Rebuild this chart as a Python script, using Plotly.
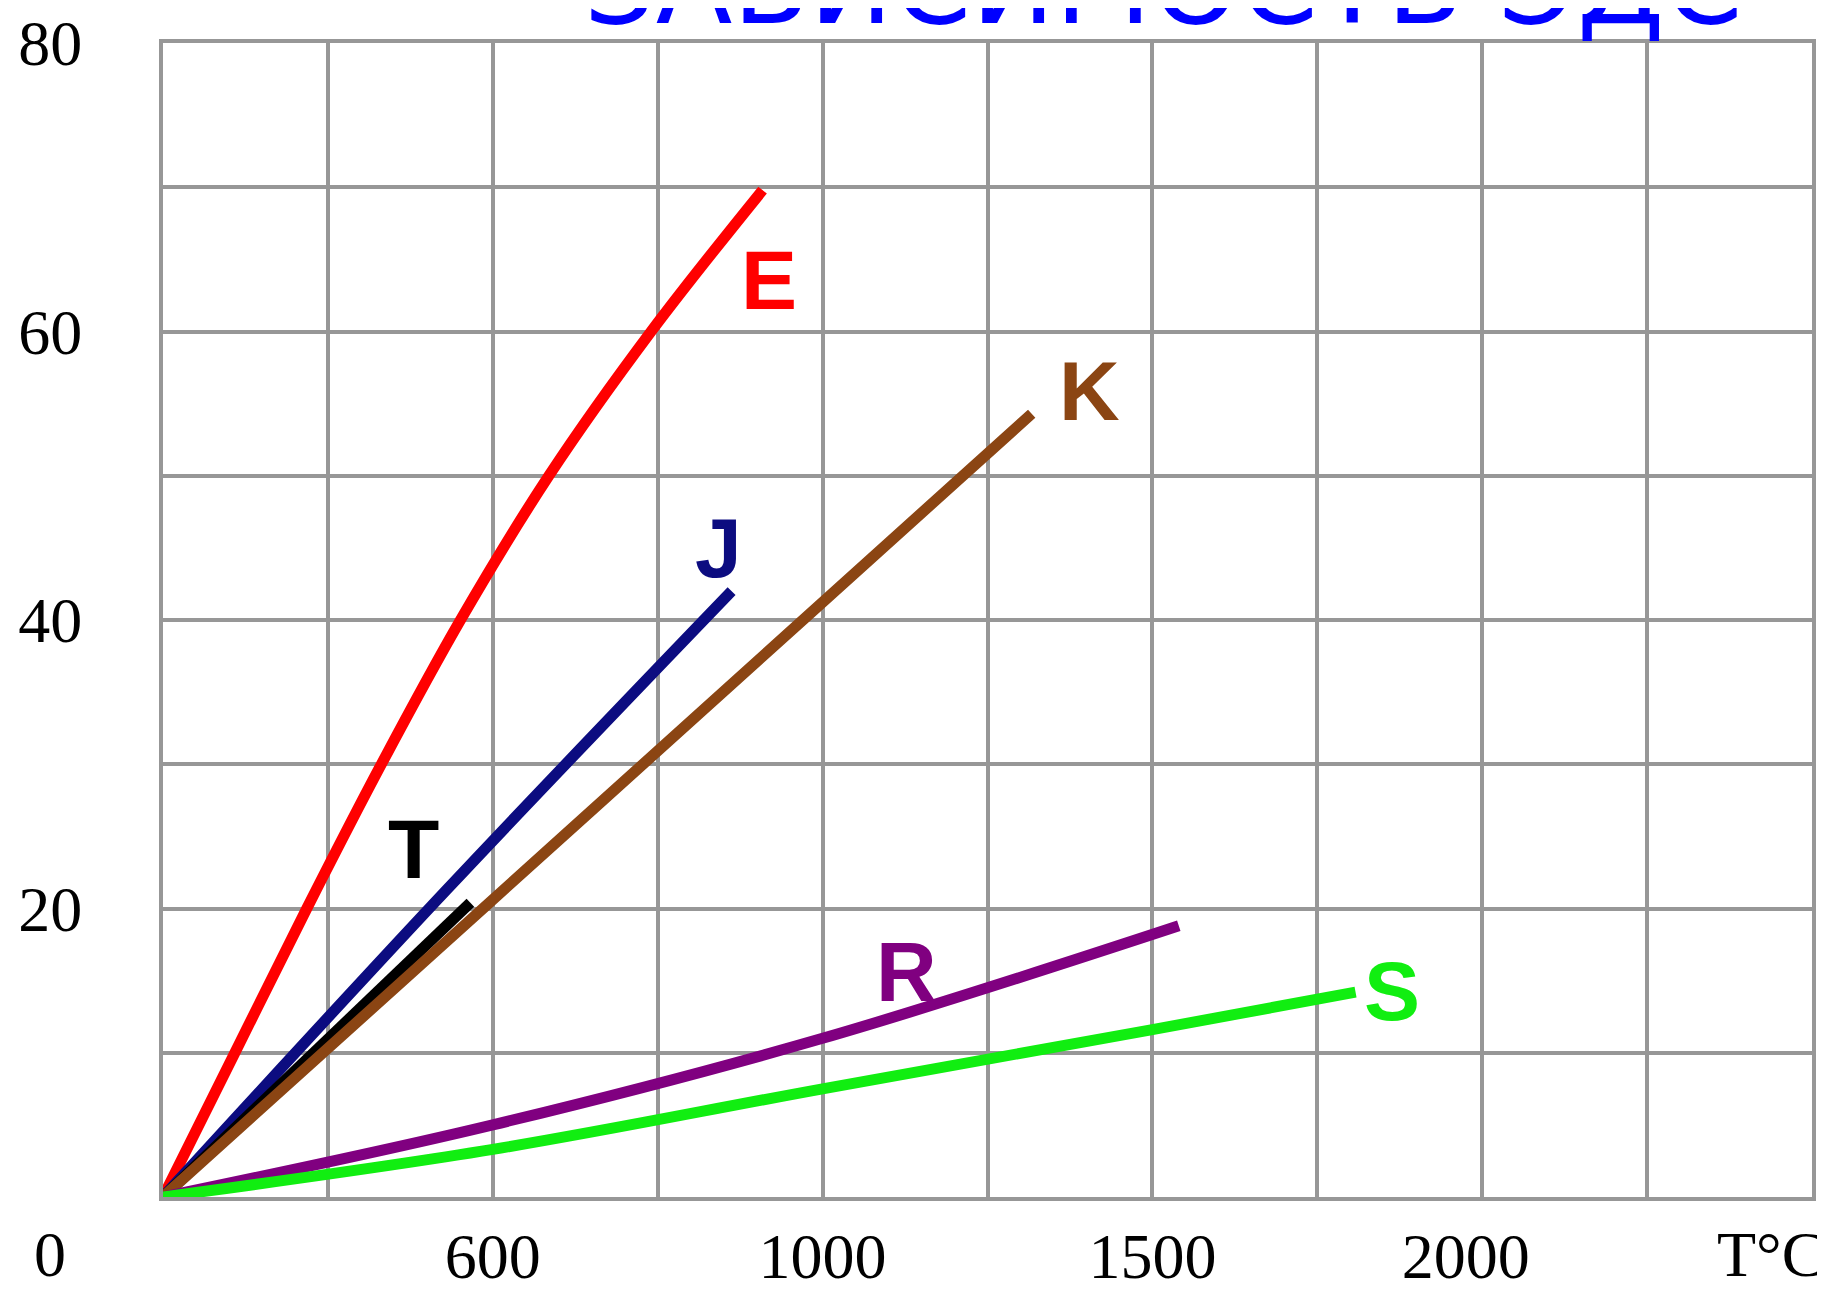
import plotly.graph_objects as go

# ---- data (temperature °C, EMF mV) ----
t_E = [0, 109, 218, 331, 451, 585, 740, 909]
v_E = [0, 10, 20, 30, 40, 50, 60, 69.8]

t_J = [0, 430, 862]
v_J = [0, 21.3, 42.0]

t_T = [0, 466]
v_T = [0, 20.4]

t_K = [0, 490, 975, 1317]
v_K = [0, 20.2, 40.2, 54.3]

t_R = [0, 500, 1000, 1540]
v_R = [0, 5.0, 11.0, 18.8]

t_S = [0, 500, 1000, 1500, 1808]
v_S = [0, 3.3, 7.5, 11.6, 14.2]

series_names = ["E", "J", "T", "K", "R", "S"]
series_colors = ["#ff0000", "#0c0c80", "#000000", "#8b4513", "#800080", "#11ee11"]
label_pos_t = [918, 842, 380, 1404, 1127, 1864]
label_pos_v = [63.6, 45.0, 24.1, 55.9, 15.6, 14.3]

x_tickvals = [500, 1000, 1500, 1975]
x_ticktext = ["600", "1000", "1500", "2000"]
y_tickvals = [20, 40, 60, 80]
y_ticktext = ["20", "40", "60", "80"]

title_text = "ЗАВИСИМОСТЬ ЭДС"
x_axis_label = "T°C"
origin_label = "0"

data = {"E": (t_E, v_E), "J": (t_J, v_J), "T": (t_T, v_T),
        "K": (t_K, v_K), "R": (t_R, v_R), "S": (t_S, v_S)}

fig = go.Figure()
for name, color in zip(series_names, series_colors):
    xs, ys = data[name]
    fig.add_trace(go.Scatter(x=xs, y=ys, mode="lines", name=name,
                             line=dict(color=color, width=11, shape="spline", smoothing=1.0)))

for name, color, lx, ly in zip(series_names, series_colors, label_pos_t, label_pos_v):
    fig.add_annotation(x=lx, y=ly, text="<b>" + name + "</b>", showarrow=False,
                       font=dict(family="Liberation Sans, Arial", size=84, color=color),
                       xanchor="center", yanchor="middle")

grid_color = "#979797"
tick_font = dict(family="Liberation Serif, Times New Roman", size=64, color="#000000")
fig.update_xaxes(range=[0, 2500], showgrid=False, zeroline=False, showline=True, mirror=True,
                 linecolor=grid_color, linewidth=4, automargin=False,
                 tickmode="array", tickvals=x_tickvals, ticktext=x_ticktext,
                 ticks="", ticklabelstandoff=0, tickfont=tick_font)
fig.update_xaxes(minor=dict(tickmode="array", tickvals=list(range(0, 2501, 250)),
                            showgrid=True, gridcolor=grid_color, gridwidth=4))
fig.update_yaxes(range=[0, 80], showgrid=False, zeroline=False, showline=True, mirror=True,
                 linecolor=grid_color, linewidth=4, automargin=False,
                 tickmode="array", tickvals=y_tickvals, ticktext=y_ticktext,
                 ticks="", ticklabelstandoff=64, tickfont=tick_font)
fig.update_yaxes(minor=dict(tickmode="array", tickvals=list(range(0, 81, 10)),
                            showgrid=True, gridcolor=grid_color, gridwidth=4))

fig.add_annotation(xref="paper", yref="paper", x=-0.0685, y=-0.0823, text=origin_label,
                   showarrow=False, xanchor="center", yanchor="bottom", font=tick_font)
fig.add_annotation(xref="paper", yref="paper", x=0.975, y=-0.050, text=x_axis_label,
                   showarrow=False, xanchor="center", yanchor="middle", font=tick_font)
fig.add_annotation(xref="paper", yref="paper", x=0.607, y=1.051, text=title_text,
                   showarrow=False, xanchor="center", yanchor="middle",
                   font=dict(family="DejaVu Sans", size=112, color="#0000ff"))

fig.update_layout(width=1817, height=1284, showlegend=False,
                  margin=dict(l=155, r=13, t=35, b=95, autoexpand=False),
                  plot_bgcolor="#ffffff", paper_bgcolor="#ffffff")

fig.write_html("out.html")
